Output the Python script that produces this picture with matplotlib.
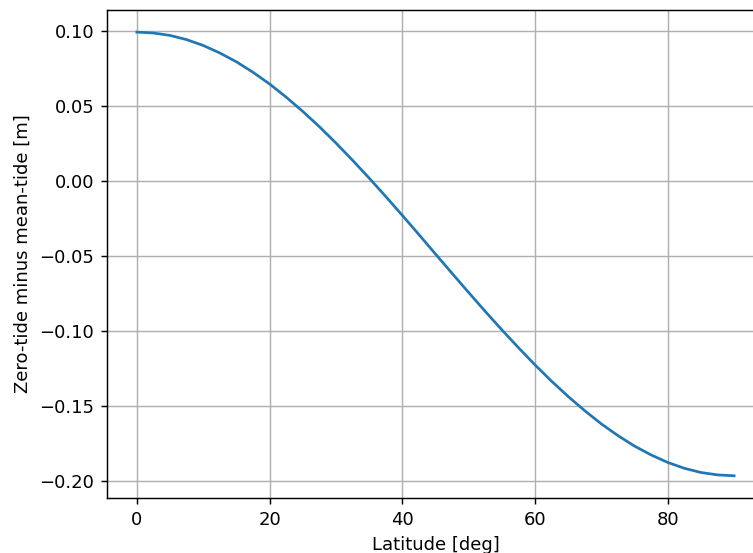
import matplotlib
matplotlib.use("Agg")
import matplotlib.pyplot as plt

# latitude [deg] and zero-tide minus mean-tide [m]
latitude = [0, 2.5, 5, 7.5, 10, 12.5, 15, 17.5, 20, 22.5, 25, 27.5, 30, 32.5, 35,
            37.5, 40, 42.5, 45, 47.5, 50, 52.5, 55, 57.5, 60, 62.5, 65, 67.5, 70,
            72.5, 75, 77.5, 80, 82.5, 85, 87.5, 90]
diff = [0.0995, 0.0989, 0.0973, 0.0945, 0.0906, 0.0856, 0.0797, 0.0727, 0.0649,
        0.0561, 0.0466, 0.0364, 0.0255, 0.0140, 0.0021, -0.0102, -0.0228, -0.0356,
        -0.0486, -0.0615, -0.0743, -0.0869, -0.0992, -0.1111, -0.1226, -0.1335,
        -0.1437, -0.1532, -0.1620, -0.1698, -0.1768, -0.1827, -0.1877, -0.1916,
        -0.1944, -0.1960, -0.1966]

fig = plt.figure(figsize=(753 / 130, 553 / 130), dpi=130)
ax = fig.add_axes([0.1421, 0.0995, 0.8725, 0.8825])
ax.plot(latitude, diff)
ax.grid(True)
ax.set_xlabel("Latitude [deg]")
ax.set_ylabel("Zero-tide minus mean-tide [m]")
ax.set_xticks([0, 20, 40, 60, 80])
ax.set_yticks([0.10, 0.05, 0.00, -0.05, -0.10, -0.15, -0.20])

fig.savefig("out.png", dpi=130)
